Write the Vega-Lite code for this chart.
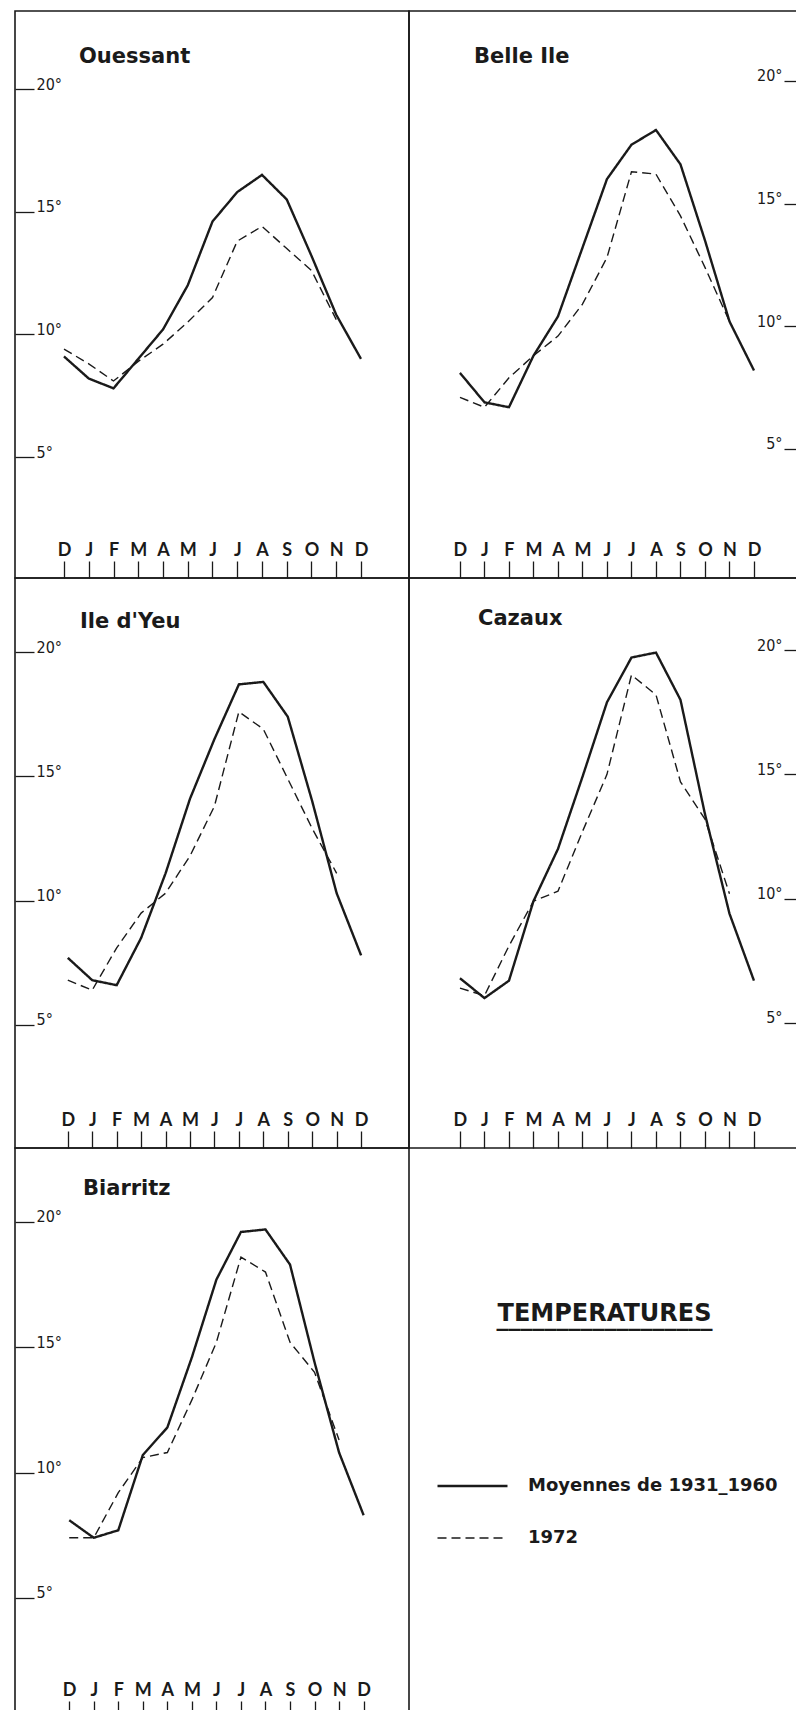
{
  "$schema": "https://vega.github.io/schema/vega-lite/v6.json",
  "padding": {"left": 13, "top": 10, "right": 0, "bottom": 0},
  "background": "white",
  "columns": 2,
  "spacing": 0,
  "bounds": "flush",
  "config": {
    "view": {"stroke": "#1a1a1a", "strokeWidth": 1.6},
    "concat": {"spacing": 0},
    "axis": {"grid": false, "title": null, "domain": false, "tickColor": "#1a1a1a", "labelColor": "#1a1a1a", "tickWidth": 1.3},
    "title": {"color": "#1a1a1a"},
    "line": {"color": "#1a1a1a"}
  },
  "datasets": {
    "temp": [
      {"station": "Ouessant", "series": "Moyennes de 1931_1960", "m": 0, "t": 9.1},
      {"station": "Ouessant", "series": "Moyennes de 1931_1960", "m": 1, "t": 8.2},
      {"station": "Ouessant", "series": "Moyennes de 1931_1960", "m": 2, "t": 7.8},
      {"station": "Ouessant", "series": "Moyennes de 1931_1960", "m": 3, "t": 9.0},
      {"station": "Ouessant", "series": "Moyennes de 1931_1960", "m": 4, "t": 10.2},
      {"station": "Ouessant", "series": "Moyennes de 1931_1960", "m": 5, "t": 12.0},
      {"station": "Ouessant", "series": "Moyennes de 1931_1960", "m": 6, "t": 14.6},
      {"station": "Ouessant", "series": "Moyennes de 1931_1960", "m": 7, "t": 15.8},
      {"station": "Ouessant", "series": "Moyennes de 1931_1960", "m": 8, "t": 16.5},
      {"station": "Ouessant", "series": "Moyennes de 1931_1960", "m": 9, "t": 15.5},
      {"station": "Ouessant", "series": "Moyennes de 1931_1960", "m": 10, "t": 13.2},
      {"station": "Ouessant", "series": "Moyennes de 1931_1960", "m": 11, "t": 10.8},
      {"station": "Ouessant", "series": "Moyennes de 1931_1960", "m": 12, "t": 9.0},
      {"station": "Ouessant", "series": "1972", "m": 0, "t": 9.4},
      {"station": "Ouessant", "series": "1972", "m": 1, "t": 8.8},
      {"station": "Ouessant", "series": "1972", "m": 2, "t": 8.1},
      {"station": "Ouessant", "series": "1972", "m": 3, "t": 8.9},
      {"station": "Ouessant", "series": "1972", "m": 4, "t": 9.6},
      {"station": "Ouessant", "series": "1972", "m": 5, "t": 10.5},
      {"station": "Ouessant", "series": "1972", "m": 6, "t": 11.5},
      {"station": "Ouessant", "series": "1972", "m": 7, "t": 13.8},
      {"station": "Ouessant", "series": "1972", "m": 8, "t": 14.4},
      {"station": "Ouessant", "series": "1972", "m": 9, "t": 13.5},
      {"station": "Ouessant", "series": "1972", "m": 10, "t": 12.6},
      {"station": "Ouessant", "series": "1972", "m": 11, "t": 10.6},
      {"station": "Belle Ile", "series": "Moyennes de 1931_1960", "m": 0, "t": 8.1},
      {"station": "Belle Ile", "series": "Moyennes de 1931_1960", "m": 1, "t": 6.9},
      {"station": "Belle Ile", "series": "Moyennes de 1931_1960", "m": 2, "t": 6.7},
      {"station": "Belle Ile", "series": "Moyennes de 1931_1960", "m": 3, "t": 8.8},
      {"station": "Belle Ile", "series": "Moyennes de 1931_1960", "m": 4, "t": 10.4},
      {"station": "Belle Ile", "series": "Moyennes de 1931_1960", "m": 5, "t": 13.2},
      {"station": "Belle Ile", "series": "Moyennes de 1931_1960", "m": 6, "t": 16.0},
      {"station": "Belle Ile", "series": "Moyennes de 1931_1960", "m": 7, "t": 17.4},
      {"station": "Belle Ile", "series": "Moyennes de 1931_1960", "m": 8, "t": 18.0},
      {"station": "Belle Ile", "series": "Moyennes de 1931_1960", "m": 9, "t": 16.6},
      {"station": "Belle Ile", "series": "Moyennes de 1931_1960", "m": 10, "t": 13.5},
      {"station": "Belle Ile", "series": "Moyennes de 1931_1960", "m": 11, "t": 10.2},
      {"station": "Belle Ile", "series": "Moyennes de 1931_1960", "m": 12, "t": 8.2},
      {"station": "Belle Ile", "series": "1972", "m": 0, "t": 7.1},
      {"station": "Belle Ile", "series": "1972", "m": 1, "t": 6.7},
      {"station": "Belle Ile", "series": "1972", "m": 2, "t": 7.9},
      {"station": "Belle Ile", "series": "1972", "m": 3, "t": 8.8},
      {"station": "Belle Ile", "series": "1972", "m": 4, "t": 9.6},
      {"station": "Belle Ile", "series": "1972", "m": 5, "t": 10.9},
      {"station": "Belle Ile", "series": "1972", "m": 6, "t": 12.8},
      {"station": "Belle Ile", "series": "1972", "m": 7, "t": 16.3},
      {"station": "Belle Ile", "series": "1972", "m": 8, "t": 16.2},
      {"station": "Belle Ile", "series": "1972", "m": 9, "t": 14.5},
      {"station": "Belle Ile", "series": "1972", "m": 10, "t": 12.4},
      {"station": "Belle Ile", "series": "1972", "m": 11, "t": 10.2},
      {"station": "Ile d'Yeu", "series": "Moyennes de 1931_1960", "m": 0, "t": 7.7},
      {"station": "Ile d'Yeu", "series": "Moyennes de 1931_1960", "m": 1, "t": 6.8},
      {"station": "Ile d'Yeu", "series": "Moyennes de 1931_1960", "m": 2, "t": 6.6},
      {"station": "Ile d'Yeu", "series": "Moyennes de 1931_1960", "m": 3, "t": 8.5},
      {"station": "Ile d'Yeu", "series": "Moyennes de 1931_1960", "m": 4, "t": 11.1},
      {"station": "Ile d'Yeu", "series": "Moyennes de 1931_1960", "m": 5, "t": 14.1},
      {"station": "Ile d'Yeu", "series": "Moyennes de 1931_1960", "m": 6, "t": 16.5},
      {"station": "Ile d'Yeu", "series": "Moyennes de 1931_1960", "m": 7, "t": 18.7},
      {"station": "Ile d'Yeu", "series": "Moyennes de 1931_1960", "m": 8, "t": 18.8},
      {"station": "Ile d'Yeu", "series": "Moyennes de 1931_1960", "m": 9, "t": 17.4},
      {"station": "Ile d'Yeu", "series": "Moyennes de 1931_1960", "m": 10, "t": 14.0},
      {"station": "Ile d'Yeu", "series": "Moyennes de 1931_1960", "m": 11, "t": 10.3},
      {"station": "Ile d'Yeu", "series": "Moyennes de 1931_1960", "m": 12, "t": 7.8},
      {"station": "Ile d'Yeu", "series": "1972", "m": 0, "t": 6.8},
      {"station": "Ile d'Yeu", "series": "1972", "m": 1, "t": 6.4},
      {"station": "Ile d'Yeu", "series": "1972", "m": 2, "t": 8.1},
      {"station": "Ile d'Yeu", "series": "1972", "m": 3, "t": 9.5},
      {"station": "Ile d'Yeu", "series": "1972", "m": 4, "t": 10.3},
      {"station": "Ile d'Yeu", "series": "1972", "m": 5, "t": 11.8},
      {"station": "Ile d'Yeu", "series": "1972", "m": 6, "t": 13.8},
      {"station": "Ile d'Yeu", "series": "1972", "m": 7, "t": 17.6},
      {"station": "Ile d'Yeu", "series": "1972", "m": 8, "t": 16.9},
      {"station": "Ile d'Yeu", "series": "1972", "m": 9, "t": 14.9},
      {"station": "Ile d'Yeu", "series": "1972", "m": 10, "t": 12.9},
      {"station": "Ile d'Yeu", "series": "1972", "m": 11, "t": 11.1},
      {"station": "Cazaux", "series": "Moyennes de 1931_1960", "m": 0, "t": 6.8},
      {"station": "Cazaux", "series": "Moyennes de 1931_1960", "m": 1, "t": 6.0},
      {"station": "Cazaux", "series": "Moyennes de 1931_1960", "m": 2, "t": 6.7},
      {"station": "Cazaux", "series": "Moyennes de 1931_1960", "m": 3, "t": 9.9},
      {"station": "Cazaux", "series": "Moyennes de 1931_1960", "m": 4, "t": 12.0},
      {"station": "Cazaux", "series": "Moyennes de 1931_1960", "m": 5, "t": 14.9},
      {"station": "Cazaux", "series": "Moyennes de 1931_1960", "m": 6, "t": 17.9},
      {"station": "Cazaux", "series": "Moyennes de 1931_1960", "m": 7, "t": 19.7},
      {"station": "Cazaux", "series": "Moyennes de 1931_1960", "m": 8, "t": 19.9},
      {"station": "Cazaux", "series": "Moyennes de 1931_1960", "m": 9, "t": 18.0},
      {"station": "Cazaux", "series": "Moyennes de 1931_1960", "m": 10, "t": 13.4},
      {"station": "Cazaux", "series": "Moyennes de 1931_1960", "m": 11, "t": 9.4},
      {"station": "Cazaux", "series": "Moyennes de 1931_1960", "m": 12, "t": 6.7},
      {"station": "Cazaux", "series": "1972", "m": 0, "t": 6.4},
      {"station": "Cazaux", "series": "1972", "m": 1, "t": 6.1},
      {"station": "Cazaux", "series": "1972", "m": 2, "t": 8.1},
      {"station": "Cazaux", "series": "1972", "m": 3, "t": 9.9},
      {"station": "Cazaux", "series": "1972", "m": 4, "t": 10.3},
      {"station": "Cazaux", "series": "1972", "m": 5, "t": 12.7},
      {"station": "Cazaux", "series": "1972", "m": 6, "t": 15.0},
      {"station": "Cazaux", "series": "1972", "m": 7, "t": 19.0},
      {"station": "Cazaux", "series": "1972", "m": 8, "t": 18.2},
      {"station": "Cazaux", "series": "1972", "m": 9, "t": 14.7},
      {"station": "Cazaux", "series": "1972", "m": 10, "t": 13.2},
      {"station": "Cazaux", "series": "1972", "m": 11, "t": 10.2},
      {"station": "Biarritz", "series": "Moyennes de 1931_1960", "m": 0, "t": 8.1},
      {"station": "Biarritz", "series": "Moyennes de 1931_1960", "m": 1, "t": 7.4},
      {"station": "Biarritz", "series": "Moyennes de 1931_1960", "m": 2, "t": 7.7},
      {"station": "Biarritz", "series": "Moyennes de 1931_1960", "m": 3, "t": 10.7},
      {"station": "Biarritz", "series": "Moyennes de 1931_1960", "m": 4, "t": 11.8},
      {"station": "Biarritz", "series": "Moyennes de 1931_1960", "m": 5, "t": 14.6},
      {"station": "Biarritz", "series": "Moyennes de 1931_1960", "m": 6, "t": 17.7},
      {"station": "Biarritz", "series": "Moyennes de 1931_1960", "m": 7, "t": 19.6},
      {"station": "Biarritz", "series": "Moyennes de 1931_1960", "m": 8, "t": 19.7},
      {"station": "Biarritz", "series": "Moyennes de 1931_1960", "m": 9, "t": 18.3},
      {"station": "Biarritz", "series": "Moyennes de 1931_1960", "m": 10, "t": 14.4},
      {"station": "Biarritz", "series": "Moyennes de 1931_1960", "m": 11, "t": 10.8},
      {"station": "Biarritz", "series": "Moyennes de 1931_1960", "m": 12, "t": 8.3},
      {"station": "Biarritz", "series": "1972", "m": 0, "t": 7.4},
      {"station": "Biarritz", "series": "1972", "m": 1, "t": 7.4},
      {"station": "Biarritz", "series": "1972", "m": 2, "t": 9.2},
      {"station": "Biarritz", "series": "1972", "m": 3, "t": 10.6},
      {"station": "Biarritz", "series": "1972", "m": 4, "t": 10.8},
      {"station": "Biarritz", "series": "1972", "m": 5, "t": 12.9},
      {"station": "Biarritz", "series": "1972", "m": 6, "t": 15.2},
      {"station": "Biarritz", "series": "1972", "m": 7, "t": 18.6},
      {"station": "Biarritz", "series": "1972", "m": 8, "t": 18.0},
      {"station": "Biarritz", "series": "1972", "m": 9, "t": 15.2},
      {"station": "Biarritz", "series": "1972", "m": 10, "t": 14.0},
      {"station": "Biarritz", "series": "1972", "m": 11, "t": 11.3}
    ]
  },
  "concat": [
    {
      "width": 394, "height": 567,
      "title": {"text": "Ouessant", "anchor": "start", "frame": "group", "dx": 64, "offset": -56, "font": "DejaVu Sans", "fontSize": 21, "fontWeight": "bold"},
      "data": {"name": "temp"},
      "transform": [{"filter": "datum.station === 'Ouessant'"}],
      "mark": {"type": "line"},
      "encoding": {
        "x": {"field": "m", "type": "quantitative", "scale": {"domain": [-1.98, 13.94], "nice": false, "zero": false},
              "axis": {"orient": "bottom", "values": [0,1,2,3,4,5,6,7,8,9,10,11,12], "labelExpr": "['D','J','F','M','A','M','J','J','A','S','O','N','D'][datum.value]", "tickSize": -17, "labelPadding": -6, "labelBaseline": "alphabetic", "labelFont": "Lato", "labelFontWeight": "bold", "labelFontSize": 18, "labelOverlap": false, "labelFlush": false}},
        "y": {"field": "t", "type": "quantitative", "scale": {"domain": [0.07, 23.18], "nice": false, "zero": false},
              "axis": {"orient": "left", "values": [5,10,15,20], "labelExpr": "datum.value + '°'", "tickSize": -19, "labelPadding": -2, "labelAlign": "left", "labelBaseline": "alphabetic", "labelFont": "Liberation Sans Narrow, DejaVu Sans Condensed, sans-serif", "labelFontSize": 16}},
        "strokeDash": {"field": "series", "type": "nominal", "scale": {"domain": ["Moyennes de 1931_1960", "1972"], "range": [[1, 0], [9, 5]]},
              "legend": {"title": null, "orient": "none", "legendX": 421, "legendY": 1466, "symbolType": "stroke", "symbolSize": 4900, "symbolStrokeColor": "#1a1a1a", "clipHeight": 18, "rowPadding": 34, "labelOffset": 19, "labelFont": "DejaVu Sans", "labelFontWeight": "bold", "labelFontSize": 18, "labelColor": "#1a1a1a", "labelLimit": 0, "padding": 0}},
        "strokeWidth": {"field": "series", "type": "nominal", "scale": {"domain": ["Moyennes de 1931_1960", "1972"], "range": [2.4, 1.4]},
              "legend": {"title": null, "orient": "none", "legendX": 421, "legendY": 1466, "symbolType": "stroke", "symbolSize": 4900, "symbolStrokeColor": "#1a1a1a", "clipHeight": 18, "rowPadding": 34, "labelOffset": 19, "labelFont": "DejaVu Sans", "labelFontWeight": "bold", "labelFontSize": 18, "labelColor": "#1a1a1a", "labelLimit": 0, "padding": 0}}
      }
    },
    {
      "width": 393, "height": 567,
      "title": {"text": "Belle Ile", "anchor": "start", "frame": "group", "dx": 65, "offset": -56, "font": "DejaVu Sans", "fontSize": 21, "fontWeight": "bold"},
      "data": {"name": "temp"},
      "transform": [{"filter": "datum.station === 'Belle Ile'"}],
      "mark": {"type": "line"},
      "encoding": {
        "x": {"field": "m", "type": "quantitative", "scale": {"domain": [-2.08, 13.96], "nice": false, "zero": false},
              "axis": {"orient": "bottom", "values": [0,1,2,3,4,5,6,7,8,9,10,11,12], "labelExpr": "['D','J','F','M','A','M','J','J','A','S','O','N','D'][datum.value]", "tickSize": -17, "labelPadding": -6, "labelBaseline": "alphabetic", "labelFont": "Lato", "labelFontWeight": "bold", "labelFontSize": 18, "labelOverlap": false, "labelFlush": false}},
        "y": {"field": "t", "type": "quantitative", "scale": {"domain": [-0.26, 22.85], "nice": false, "zero": false},
              "axis": {"orient": "right", "values": [5,10,15,20], "labelExpr": "datum.value + '°'", "tickSize": -18, "labelPadding": -2, "labelAlign": "right", "labelBaseline": "alphabetic", "labelFont": "Liberation Sans Narrow, DejaVu Sans Condensed, sans-serif", "labelFontSize": 16}},
        "strokeDash": {"field": "series", "type": "nominal", "scale": {"domain": ["Moyennes de 1931_1960", "1972"], "range": [[1, 0], [9, 5]]},
              "legend": {"title": null, "orient": "none", "legendX": 421, "legendY": 1466, "symbolType": "stroke", "symbolSize": 4900, "symbolStrokeColor": "#1a1a1a", "clipHeight": 18, "rowPadding": 34, "labelOffset": 19, "labelFont": "DejaVu Sans", "labelFontWeight": "bold", "labelFontSize": 18, "labelColor": "#1a1a1a", "labelLimit": 0, "padding": 0}},
        "strokeWidth": {"field": "series", "type": "nominal", "scale": {"domain": ["Moyennes de 1931_1960", "1972"], "range": [2.4, 1.4]},
              "legend": {"title": null, "orient": "none", "legendX": 421, "legendY": 1466, "symbolType": "stroke", "symbolSize": 4900, "symbolStrokeColor": "#1a1a1a", "clipHeight": 18, "rowPadding": 34, "labelOffset": 19, "labelFont": "DejaVu Sans", "labelFontWeight": "bold", "labelFontSize": 18, "labelColor": "#1a1a1a", "labelLimit": 0, "padding": 0}}
      }
    },
    {
      "width": 394, "height": 570,
      "title": {"text": "Ile d'Yeu", "anchor": "start", "frame": "group", "dx": 65, "offset": -54, "font": "DejaVu Sans", "fontSize": 21, "fontWeight": "bold"},
      "data": {"name": "temp"},
      "transform": [{"filter": "datum.station === \"Ile d'Yeu\""}],
      "mark": {"type": "line"},
      "encoding": {
        "x": {"field": "m", "type": "quantitative", "scale": {"domain": [-2.16, 13.96], "nice": false, "zero": false},
              "axis": {"orient": "bottom", "values": [0,1,2,3,4,5,6,7,8,9,10,11,12], "labelExpr": "['D','J','F','M','A','M','J','J','A','S','O','N','D'][datum.value]", "tickSize": -17, "labelPadding": -6, "labelBaseline": "alphabetic", "labelFont": "Lato", "labelFontWeight": "bold", "labelFontSize": 18, "labelOverlap": false, "labelFlush": false}},
        "y": {"field": "t", "type": "quantitative", "scale": {"domain": [0.05, 22.98], "nice": false, "zero": false},
              "axis": {"orient": "left", "values": [5,10,15,20], "labelExpr": "datum.value + '°'", "tickSize": -19, "labelPadding": -2, "labelAlign": "left", "labelBaseline": "alphabetic", "labelFont": "Liberation Sans Narrow, DejaVu Sans Condensed, sans-serif", "labelFontSize": 16}},
        "strokeDash": {"field": "series", "type": "nominal", "scale": {"domain": ["Moyennes de 1931_1960", "1972"], "range": [[1, 0], [9, 5]]},
              "legend": {"title": null, "orient": "none", "legendX": 421, "legendY": 1466, "symbolType": "stroke", "symbolSize": 4900, "symbolStrokeColor": "#1a1a1a", "clipHeight": 18, "rowPadding": 34, "labelOffset": 19, "labelFont": "DejaVu Sans", "labelFontWeight": "bold", "labelFontSize": 18, "labelColor": "#1a1a1a", "labelLimit": 0, "padding": 0}},
        "strokeWidth": {"field": "series", "type": "nominal", "scale": {"domain": ["Moyennes de 1931_1960", "1972"], "range": [2.4, 1.4]},
              "legend": {"title": null, "orient": "none", "legendX": 421, "legendY": 1466, "symbolType": "stroke", "symbolSize": 4900, "symbolStrokeColor": "#1a1a1a", "clipHeight": 18, "rowPadding": 34, "labelOffset": 19, "labelFont": "DejaVu Sans", "labelFontWeight": "bold", "labelFontSize": 18, "labelColor": "#1a1a1a", "labelLimit": 0, "padding": 0}}
      }
    },
    {
      "width": 393, "height": 570,
      "title": {"text": "Cazaux", "anchor": "start", "frame": "group", "dx": 69, "offset": -51, "font": "DejaVu Sans", "fontSize": 21, "fontWeight": "bold"},
      "data": {"name": "temp"},
      "transform": [{"filter": "datum.station === 'Cazaux'"}],
      "mark": {"type": "line"},
      "encoding": {
        "x": {"field": "m", "type": "quantitative", "scale": {"domain": [-2.08, 13.96], "nice": false, "zero": false},
              "axis": {"orient": "bottom", "values": [0,1,2,3,4,5,6,7,8,9,10,11,12], "labelExpr": "['D','J','F','M','A','M','J','J','A','S','O','N','D'][datum.value]", "tickSize": -17, "labelPadding": -6, "labelBaseline": "alphabetic", "labelFont": "Lato", "labelFontWeight": "bold", "labelFontSize": 18, "labelOverlap": false, "labelFlush": false}},
        "y": {"field": "t", "type": "quantitative", "scale": {"domain": [-0.03, 22.9], "nice": false, "zero": false},
              "axis": {"orient": "right", "values": [5,10,15,20], "labelExpr": "datum.value + '°'", "tickSize": -18, "labelPadding": -2, "labelAlign": "right", "labelBaseline": "alphabetic", "labelFont": "Liberation Sans Narrow, DejaVu Sans Condensed, sans-serif", "labelFontSize": 16}},
        "strokeDash": {"field": "series", "type": "nominal", "scale": {"domain": ["Moyennes de 1931_1960", "1972"], "range": [[1, 0], [9, 5]]},
              "legend": {"title": null, "orient": "none", "legendX": 421, "legendY": 1466, "symbolType": "stroke", "symbolSize": 4900, "symbolStrokeColor": "#1a1a1a", "clipHeight": 18, "rowPadding": 34, "labelOffset": 19, "labelFont": "DejaVu Sans", "labelFontWeight": "bold", "labelFontSize": 18, "labelColor": "#1a1a1a", "labelLimit": 0, "padding": 0}},
        "strokeWidth": {"field": "series", "type": "nominal", "scale": {"domain": ["Moyennes de 1931_1960", "1972"], "range": [2.4, 1.4]},
              "legend": {"title": null, "orient": "none", "legendX": 421, "legendY": 1466, "symbolType": "stroke", "symbolSize": 4900, "symbolStrokeColor": "#1a1a1a", "clipHeight": 18, "rowPadding": 34, "labelOffset": 19, "labelFont": "DejaVu Sans", "labelFontWeight": "bold", "labelFontSize": 18, "labelColor": "#1a1a1a", "labelLimit": 0, "padding": 0}}
      }
    },
    {
      "width": 394, "height": 570,
      "title": {"text": "Biarritz", "anchor": "start", "frame": "group", "dx": 68, "offset": -51, "font": "DejaVu Sans", "fontSize": 21, "fontWeight": "bold"},
      "data": {"name": "temp"},
      "transform": [{"filter": "datum.station === 'Biarritz'"}],
      "mark": {"type": "line"},
      "encoding": {
        "x": {"field": "m", "type": "quantitative", "scale": {"domain": [-2.21, 13.85], "nice": false, "zero": false},
              "axis": {"orient": "bottom", "values": [0,1,2,3,4,5,6,7,8,9,10,11,12], "labelExpr": "['D','J','F','M','A','M','J','J','A','S','O','N','D'][datum.value]", "tickSize": -17, "labelPadding": -6, "labelBaseline": "alphabetic", "labelFont": "Lato", "labelFontWeight": "bold", "labelFontSize": 18, "labelOverlap": false, "labelFlush": false}},
        "y": {"field": "t", "type": "quantitative", "scale": {"domain": [0.21, 22.95], "nice": false, "zero": false},
              "axis": {"orient": "left", "values": [5,10,15,20], "labelExpr": "datum.value + '°'", "tickSize": -19, "labelPadding": -2, "labelAlign": "left", "labelBaseline": "alphabetic", "labelFont": "Liberation Sans Narrow, DejaVu Sans Condensed, sans-serif", "labelFontSize": 16}},
        "strokeDash": {"field": "series", "type": "nominal", "scale": {"domain": ["Moyennes de 1931_1960", "1972"], "range": [[1, 0], [9, 5]]},
              "legend": {"title": null, "orient": "none", "legendX": 421, "legendY": 1466, "symbolType": "stroke", "symbolSize": 4900, "symbolStrokeColor": "#1a1a1a", "clipHeight": 18, "rowPadding": 34, "labelOffset": 19, "labelFont": "DejaVu Sans", "labelFontWeight": "bold", "labelFontSize": 18, "labelColor": "#1a1a1a", "labelLimit": 0, "padding": 0}},
        "strokeWidth": {"field": "series", "type": "nominal", "scale": {"domain": ["Moyennes de 1931_1960", "1972"], "range": [2.4, 1.4]},
              "legend": {"title": null, "orient": "none", "legendX": 421, "legendY": 1466, "symbolType": "stroke", "symbolSize": 4900, "symbolStrokeColor": "#1a1a1a", "clipHeight": 18, "rowPadding": 34, "labelOffset": 19, "labelFont": "DejaVu Sans", "labelFontWeight": "bold", "labelFontSize": 18, "labelColor": "#1a1a1a", "labelLimit": 0, "padding": 0}}
      }
    },
    {
      "width": 393, "height": 570,
      "title": {"text": "TEMPERATURES", "subtitle": "‾‾‾‾‾‾‾‾‾‾‾‾‾‾‾‾‾‾", "anchor": "middle", "frame": "group", "dx": -1, "offset": -205, "font": "DejaVu Sans", "fontSize": 24, "fontWeight": "bold", "subtitleFont": "DejaVu Sans", "subtitleFontSize": 24, "subtitleFontWeight": "bold", "subtitleColor": "#1a1a1a", "subtitlePadding": 3},
      "data": {"values": [{}]},
      "mark": {"type": "rule"},
      "encoding": {}
    }
  ]
}
